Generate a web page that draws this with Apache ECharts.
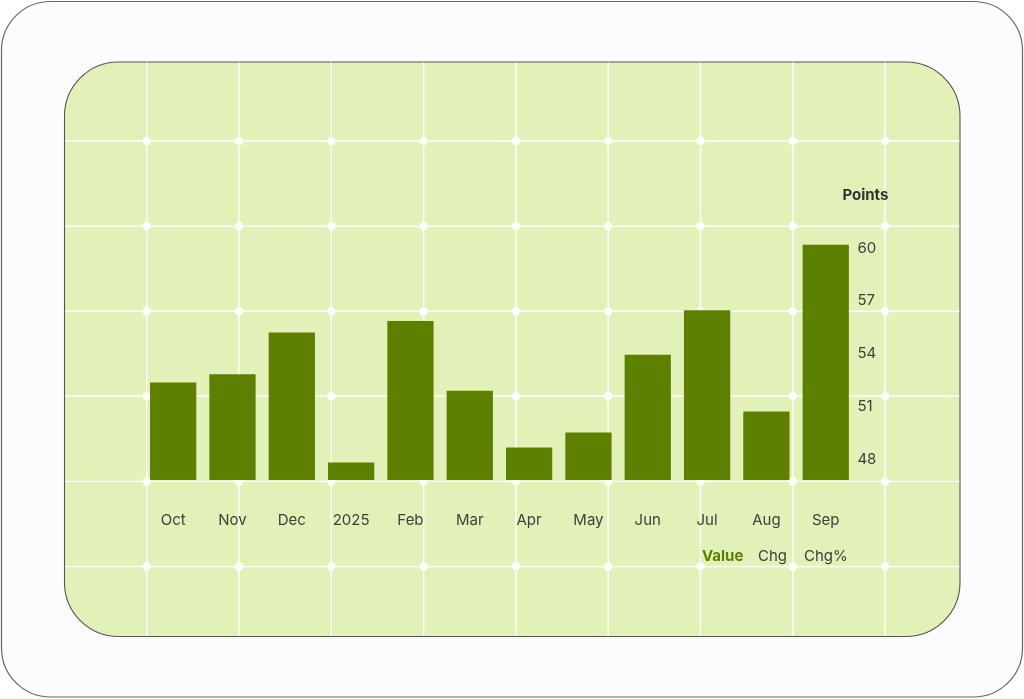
<!DOCTYPE html>
<html>
<head>
<meta charset="utf-8">
<script src="https://cdn.jsdelivr.net/npm/echarts@6/dist/echarts.min.js"></script>
<style>
html,body{margin:0;padding:0;background:#ffffff;}
#chart{width:1024px;height:699px;}
</style>
</head>
<body>
<div id="chart"></div>
<script>
const categories = ['Oct','Nov','Dec','2025','Feb','Mar','Apr','May','Jun','Jul','Aug','Sep'];
const values = [52.36, 52.83, 55.20, 47.81, 55.85, 51.88, 48.66, 49.51, 53.93, 56.47, 50.71, 60.19];
const yTickLabels = [48, 51, 54, 57, 60];
const legendItems = ['Value', 'Chg', 'Chg%'];
const axisName = 'Points';

const FONT = 'Inter, "Noto Sans", sans-serif';
const TEXT = '#404040';
const GREEN = '#5e8000';

// decorative background: frame, panel, white grid with dots
const graphics = [];
graphics.push({
  type: 'rect', z: -30, silent: true,
  shape: { x: 1.5, y: 1.5, width: 1021, height: 695.5, r: 49 },
  style: { fill: '#fcfcfe', stroke: '#666666', lineWidth: 1.2 }
});
graphics.push({
  type: 'rect', z: -29, silent: true,
  shape: { x: 64.5, y: 62, width: 895.5, height: 574.5, r: 54 },
  style: { fill: '#e2f1b7', stroke: '#555555', lineWidth: 1.1 }
});
const gx0 = 146.7, gdx = 92.3, gy0 = 141, gdy = 85.1;
for (let i = 0; i < 9; i++) {
  const x = gx0 + i * gdx;
  graphics.push({ type: 'line', z: -20, silent: true,
    shape: { x1: x, y1: 62.5, x2: x, y2: 636 },
    style: { stroke: '#ffffff', lineWidth: 1.4 } });
}
for (let j = 0; j < 6; j++) {
  const y = gy0 + j * gdy;
  graphics.push({ type: 'line', z: -20, silent: true,
    shape: { x1: 65, y1: y, x2: 959.5, y2: y },
    style: { stroke: '#ffffff', lineWidth: 1.4 } });
}
for (let i = 0; i < 9; i++) {
  for (let j = 0; j < 6; j++) {
    graphics.push({ type: 'circle', z: -19, silent: true,
      shape: { cx: gx0 + i * gdx, cy: gy0 + j * gdy, r: 4.2 },
      style: { fill: '#ffffff' } });
  }
}
// toggle labels
const legendX = [702, 758, 804];
legendItems.forEach((t, k) => {
  graphics.push({ type: 'text', z: 10, left: legendX[k], top: 549,
    style: { text: t, fill: k === 0 ? GREEN : TEXT, font: (k === 0 ? 'bold ' : '') + '15px ' + FONT } });
});

const chart = echarts.init(document.getElementById('chart'), null, { renderer: 'canvas' });
chart.setOption({
  backgroundColor: 'transparent',
  animation: false,
  graphic: graphics,
  grid: { left: 143.5, right: 168.6, top: 227.2, bottom: 219, containLabel: false },
  xAxis: {
    type: 'category',
    data: categories,
    axisLine: { show: false },
    axisTick: { show: false },
    axisLabel: { color: TEXT, fontSize: 15, fontFamily: FONT, margin: 33 },
    splitLine: { show: false }
  },
  yAxis: {
    type: 'value',
    position: 'right',
    min: v => v.min - 1,
    max: v => v.max + 1,
    name: axisName,
    nameLocation: 'end',
    nameGap: 24,
    nameTextStyle: { color: '#333333', fontSize: 15, fontWeight: 'bold', fontFamily: FONT, align: 'center', padding: [0, 0, 0, 20] },
    axisLine: { show: false },
    axisTick: { show: false },
    splitLine: { show: false },
    axisLabel: { color: TEXT, fontSize: 15, fontFamily: FONT, margin: 2, padding: [2, 0, 0, 0], customValues: yTickLabels }
  },
  series: [{
    type: 'bar',
    name: 'Value',
    data: values,
    barCategoryGap: '22%',
    itemStyle: { color: GREEN },
    z: 5
  }]
});
</script>
</body>
</html>
